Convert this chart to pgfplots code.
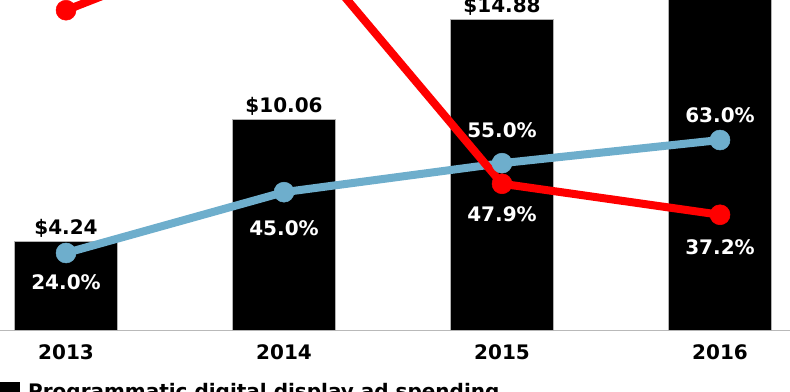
\documentclass[border=0pt]{standalone}
\usepackage{pgfplots}
\pgfplotsset{compat=1.18}
\usepackage{pgfplotstable}
\usepackage{fontspec}
\setmainfont{DejaVu Sans}
\definecolor{lineblue}{RGB}{110,174,204}
\definecolor{linered}{RGB}{255,0,0}
\newcommand{\lbl}{\bfseries\fontsize{20}{24}\selectfont}

\pgfplotstableread{
x y
0 4.24
1 10.06
2 14.88
3 20.41
}\spend

\pgfplotstableread{
x y dy
0 24.0 -37
1 45.0 -43
2 55.0 26
3 63.0 18
}\share

\pgfplotstableread{
x y
0 107.8
1 137.3
2 47.9
3 37.2
}\growth

\pgfplotstableread{
x y dy
2 47.9 -38
3 37.2 -40
}\growthlbl

\begin{document}
\begin{tikzpicture}
\useasboundingbox (0,0) rectangle (790pt,391pt);
\clip (0,0) rectangle (790pt,391pt);
\begin{axis}[
  at={(0pt,61pt)}, anchor=south west,
  scale only axis, width=790pt, height=330pt,
  xmin=-0.3028, xmax=3.3211, ymin=0, ymax=15.79,
  axis x line*=bottom, axis y line=none,
  x axis line style={draw=gray!55, line width=1pt},
  xtick={0,1,2,3}, xticklabels={2013,2014,2015,2016},
  xtick style={draw=none}, ytick=\empty,
  xticklabel style={font=\lbl, anchor=north, inner sep=0pt, yshift=-10.5pt},
  /pgf/number format/assume math mode=true,
  ybar, bar width=103pt,
]
\addplot[fill=black, draw=gray!60, line width=0.8pt,
  point meta=y,
  nodes near coords={\$\pgfmathprintnumber[fixed,fixed zerofill,precision=2]{\pgfplotspointmeta}},
  every node near coord/.append style={font=\lbl, text=black, anchor=base, inner sep=0pt, yshift=7pt}]
  table[x=x,y=y] {\spend};
\end{axis}
\begin{axis}[
  at={(0pt,61pt)}, anchor=south west,
  scale only axis, width=790pt, height=330pt,
  xmin=-0.3028, xmax=3.3211, ymin=-2.58, ymax=111.33,
  hide axis,
  /pgf/number format/assume math mode=true,
]
\addplot[color=lineblue, line width=8pt, mark=*, mark size=10pt,
  mark options={line width=0.5pt, fill=lineblue},
  point meta=y,
  visualization depends on={\thisrow{dy}\as\dy},
  nodes near coords={\pgfmathprintnumber[fixed,fixed zerofill,precision=1]{\pgfplotspointmeta}\%},
  every node near coord/.append style={font=\lbl, text=white, anchor=base, inner sep=0pt, yshift=\dy pt}]
  table[x=x,y=y] {\share};
\addplot[color=linered, line width=8pt, mark=*, mark size=10pt,
  mark options={line width=0.5pt, fill=linered}]
  table[x=x,y=y] {\growth};
\addplot[draw=none, mark=none,
  point meta=y,
  visualization depends on={\thisrow{dy}\as\dy},
  nodes near coords={\pgfmathprintnumber[fixed,fixed zerofill,precision=1]{\pgfplotspointmeta}\%},
  every node near coord/.append style={font=\lbl, text=white, anchor=base, inner sep=0pt, yshift=\dy pt}]
  table[x=x,y=y] {\growthlbl};
\end{axis}
\fill[black] (0pt,9pt) rectangle (20pt,-5pt);
\node[anchor=base west, inner sep=0pt, font=\lbl] at (28pt,-7pt) {Programmatic digital display ad spending};
\end{tikzpicture}
\end{document}
